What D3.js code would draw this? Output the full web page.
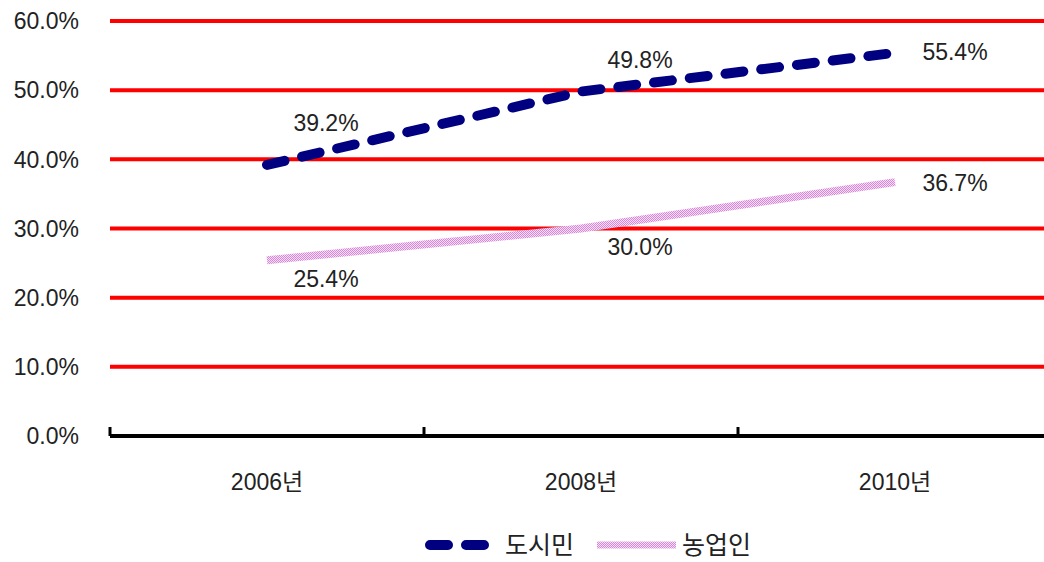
<!DOCTYPE html>
<html>
<head>
<meta charset="utf-8">
<script src="https://cdn.jsdelivr.net/npm/d3@7"></script>
<style>
  body { margin: 0; background: #fff; }
  text { font-family: "Liberation Sans", "Noto Sans CJK KR", sans-serif; fill: #222; }
</style>
</head>
<body>
<div id="chart"></div>
<script>
// chart data
const years = ["2006년", "2008년", "2010년"];
const cityValues = [39.2, 49.8, 55.4];
const farmValues = [25.4, 30.0, 36.7];
const seriesNames = ["도시민", "농업인"];
const yTicks = [0, 10, 20, 30, 40, 50, 60];

const w = 1044;
const h = 562;
const margin = { top: 21, right: -8, bottom: 126, left: 110 };

const svg = d3.select("#chart")
    .append("svg")
    .attr("width", w)
    .attr("height", h);

// stippled pink pattern for the second series
const defs = svg.append("defs");
const pat = defs.append("pattern")
    .attr("id", "stipple")
    .attr("patternUnits", "userSpaceOnUse")
    .attr("width", 2)
    .attr("height", 2);
pat.append("rect").attr("width", 2).attr("height", 2).attr("fill", "#f6dcf6");
pat.append("rect").attr("width", 1).attr("height", 1).attr("fill", "#d58ad5");
pat.append("rect").attr("x", 1).attr("y", 1).attr("width", 1).attr("height", 1).attr("fill", "#d58ad5");

const xScale = d3.scaleBand()
    .domain(years)
    .range([margin.left, w - margin.right]);

const yScale = d3.scaleLinear()
    .domain([0, 60])
    .range([h - margin.bottom, margin.top]);

// red gridlines
svg.append("g")
  .selectAll("line")
  .data(yTicks.filter(d => d > 0))
  .join("line")
    .attr("x1", margin.left)
    .attr("x2", w)
    .attr("y1", d => yScale(d))
    .attr("y2", d => yScale(d))
    .attr("stroke", "#ff0000")
    .attr("stroke-width", 4);

// y axis labels
svg.append("g")
  .selectAll("text")
  .data(yTicks)
  .join("text")
    .attr("x", 79)
    .attr("y", d => yScale(d))
    .attr("dy", "0.36em")
    .attr("text-anchor", "end")
    .attr("font-size", 23)
    .text(d => d.toFixed(1) + "%");

// x axis
const xAxis = d3.axisBottom(xScale).tickSize(0).tickPadding(38);
const gx = svg.append("g")
    .attr("transform", `translate(0, ${yScale(0)})`)
    .call(xAxis);
gx.select(".domain").remove();
gx.selectAll("text")
    .attr("font-size", 23)
    .style("font-family", "\"Liberation Sans\", \"Noto Sans CJK KR\", sans-serif")
    .attr("fill", "#222");

svg.append("line")
    .attr("x1", margin.left)
    .attr("x2", w)
    .attr("y1", yScale(0))
    .attr("y2", yScale(0))
    .attr("stroke", "#000")
    .attr("stroke-width", 4);

svg.append("g")
  .selectAll("line")
  .data(years)
  .join("line")
    .attr("x1", d => xScale(d))
    .attr("x2", d => xScale(d))
    .attr("y1", yScale(0) - 9)
    .attr("y2", yScale(0))
    .attr("stroke", "#000")
    .attr("stroke-width", 3);

const cx = d => xScale(d) + xScale.bandwidth() / 2;

const line = d3.line()
    .x((d, i) => cx(years[i]))
    .y(d => yScale(d));

svg.append("path")
    .datum(farmValues)
    .attr("d", line)
    .attr("fill", "none")
    .attr("stroke", "url(#stipple)")
    .attr("stroke-width", 8);

svg.append("path")
    .datum(cityValues)
    .attr("d", line)
    .attr("fill", "none")
    .attr("stroke", "#000080")
    .attr("stroke-width", 10)
    .attr("stroke-linecap", "round")
    .attr("stroke-dasharray", "18,18");

// value labels
const cityOffsets = [[59, -42], [59, -32], [60, -1]];
const farmOffsets = [[59, 18], [59, 18], [60, 1]];

svg.append("g")
  .selectAll("text")
  .data(cityValues)
  .join("text")
    .attr("x", (d, i) => cx(years[i]) + cityOffsets[i][0])
    .attr("y", (d, i) => yScale(d) + cityOffsets[i][1])
    .attr("dy", "0.36em")
    .attr("text-anchor", "middle")
    .attr("font-size", 23)
    .text(d => d.toFixed(1) + "%");

svg.append("g")
  .selectAll("text")
  .data(farmValues)
  .join("text")
    .attr("x", (d, i) => cx(years[i]) + farmOffsets[i][0])
    .attr("y", (d, i) => yScale(d) + farmOffsets[i][1])
    .attr("dy", "0.36em")
    .attr("text-anchor", "middle")
    .attr("font-size", 23)
    .text(d => d.toFixed(1) + "%");

// legend
const legend = svg.append("g").attr("transform", "translate(0, 545)");
legend.append("line")
    .attr("x1", 430).attr("x2", 500)
    .attr("stroke", "#000080")
    .attr("stroke-width", 10)
    .attr("stroke-linecap", "round")
    .attr("stroke-dasharray", "18,18");
legend.append("text")
    .attr("x", 505).attr("dy", "0.36em")
    .attr("font-size", 25)
    .text(seriesNames[0]);
legend.append("line")
    .attr("x1", 597).attr("x2", 676)
    .attr("stroke", "url(#stipple)")
    .attr("stroke-width", 7);
legend.append("text")
    .attr("x", 682).attr("dy", "0.36em")
    .attr("font-size", 25)
    .text(seriesNames[1]);
</script>
</body>
</html>
